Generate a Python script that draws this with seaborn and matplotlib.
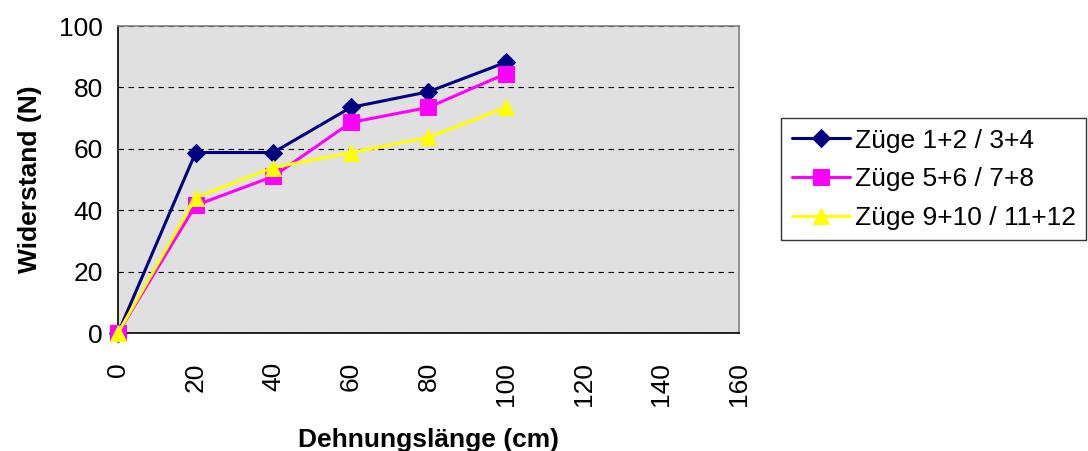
import pandas as pd
import matplotlib
matplotlib.use('Agg')
import matplotlib.pyplot as plt
import seaborn as sns

# Data
dehnung = [0, 20, 40, 60, 80, 100]
zuege_1_4 = [0, 58.8, 58.8, 73.5, 78.6, 88.2]
zuege_5_8 = [0, 41.6, 51.0, 68.6, 73.5, 84.5]
zuege_9_12 = [0, 44.1, 53.9, 58.8, 63.7, 73.5]
series_names = ['Züge 1+2 / 3+4', 'Züge 5+6 / 7+8', 'Züge 9+10 / 11+12']

colors = ['#000080', '#FF00FF', '#FFFF00']
markers = ['D', 's', '^']
sizes = [9, 11, 12]

sns.set_style('white')
plt.rcParams['font.family'] = ['Liberation Sans', 'DejaVu Sans']
plt.rcParams['text.color'] = 'black'
plt.rcParams['xtick.color'] = 'black'
plt.rcParams['ytick.color'] = 'black'
plt.rcParams['axes.labelcolor'] = 'black'

fig = plt.figure(figsize=(10.88, 4.51), dpi=100)
ax = fig.add_axes([0.1085, 0.2616, 0.5705, 0.6806])
ax.set_facecolor('#E0E0E0')

for name, values, c, m, s in zip(series_names, [zuege_1_4, zuege_5_8, zuege_9_12], colors, markers, sizes):
    df = pd.DataFrame({'x': dehnung, 'y': values})
    sns.lineplot(data=df, x='x', y='y', ax=ax, color=c, marker=m, markersize=s,
                 markeredgecolor=c, linewidth=2.2, label=name, zorder=3, clip_on=False)

ax.set_xlim(0, 160)
ax.set_ylim(0, 100)
ax.set_xticks(range(0, 161, 20))
ax.set_yticks(range(0, 101, 20))
ax.tick_params(axis='x', labelrotation=90, labelsize=19, direction='inout', length=18, width=1, pad=12)
ax.tick_params(axis='y', labelsize=19, direction='out', length=7, width=1, pad=4)
ax.yaxis.grid(True, color='black', linestyle=(0, (5, 4)), linewidth=0.8)
ax.set_axisbelow(True)

for side in ['left', 'bottom']:
    ax.spines[side].set_color('black')
    ax.spines[side].set_linewidth(1.2)
for side in ['top', 'right']:
    ax.spines[side].set_color('#808080')
    ax.spines[side].set_linewidth(1.2)

ax.set_xlabel('Dehnungslänge (cm)', fontsize=19, fontweight='bold', labelpad=16)
ax.set_ylabel('Widerstand (N)', fontsize=19, fontweight='bold', labelpad=12)

leg = ax.legend(loc='upper left', bbox_to_anchor=(1.068, 0.70), fontsize=19, frameon=True,
                fancybox=False, borderpad=0.4, handlelength=2.2, handletextpad=0.2,
                labelspacing=0.55, borderaxespad=0)
leg.get_frame().set_edgecolor('black')
leg.get_frame().set_linewidth(1.0)

plt.savefig('out.png', dpi=100)
